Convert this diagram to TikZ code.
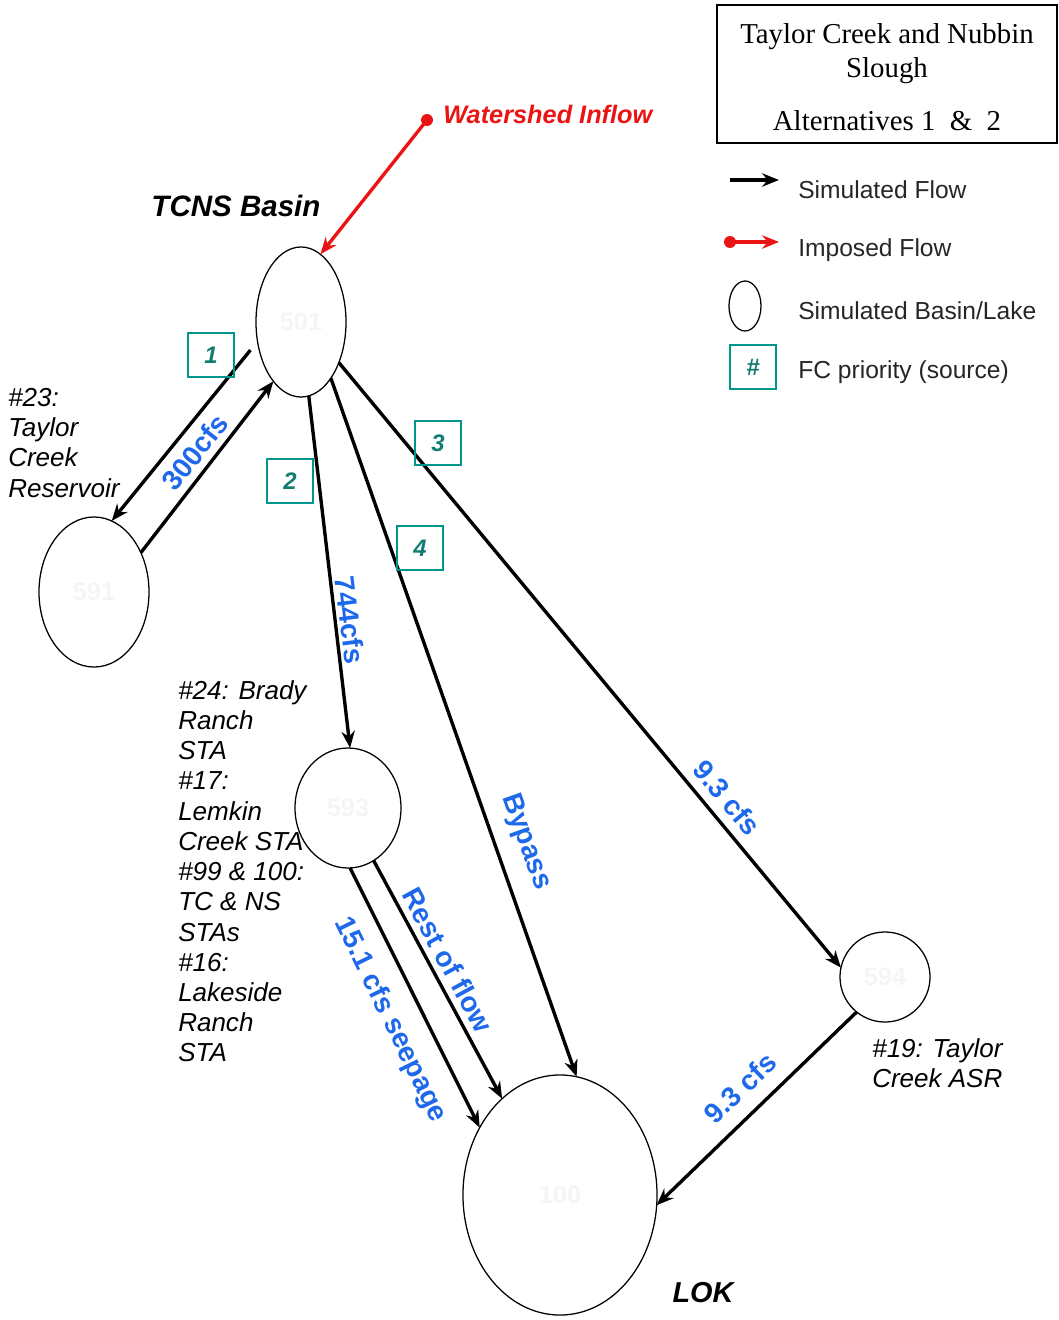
\documentclass[tikz,border=0pt]{standalone}
\usepackage{fontspec}
\setmainfont{Liberation Sans}
\newfontfamily\titlefont{Liberation Serif}
\usetikzlibrary{arrows.meta, shapes.geometric}

\definecolor{flowblue}{RGB}{30,105,235}
\definecolor{fcteal}{RGB}{0,150,140}
\definecolor{fcdigit}{RGB}{20,125,115}
\definecolor{inflowred}{RGB}{235,20,20}

\begin{document}
\begin{tikzpicture}[x=0.025cm, y=-0.025cm,
  basin/.style={ellipse,draw,line width=0.9pt,inner sep=0pt,outer sep=0pt,text=black!4,font=\fontsize{18}{18}\selectfont\bfseries},
  flow/.style={line width=2.4pt,-{Stealth[length=12pt,width=9.5pt]}},
  inflow/.style={flow,draw=inflowred,-{Stealth[length=12pt,width=9.5pt,inflowred]}},
  fcbox/.style={draw=fcteal,line width=0.9pt,minimum width=1.15cm,minimum height=1.1cm,text=fcdigit,font=\fontsize{17}{17}\selectfont\bfseries\itshape},
  flowlabel/.style={text=flowblue,inner sep=0pt,font=\fontsize{20}{20}\selectfont\bfseries},
  sitelabel/.style={align=left,anchor=north west,inner sep=0pt,font=\fontsize{18.5}{21.5}\selectfont\itshape},
  legendtext/.style={anchor=west,inner sep=0pt,text=black!85,font=\fontsize{17.5}{17.5}\selectfont}]
\useasboundingbox (0,0) rectangle (1058,1320);

% basins
\node[basin,minimum width=2.25cm,minimum height=3.75cm] (b501) at (301,322) {501};
\node[basin,minimum width=2.75cm,minimum height=3.75cm] (b591) at (94,592) {591};
\node[basin,minimum width=2.65cm,minimum height=3cm] (b593) at (348,808) {593};
\node[basin,minimum width=2.25cm,minimum height=2.25cm] (b594) at (885,977) {594};
\node[basin,minimum width=4.85cm,minimum height=6cm] (lok) at (560,1195) {100};

% watershed inflow
\node[circle,fill=inflowred,inner sep=0pt,minimum size=8.5pt] (wshed) at (427,120) {};
\draw[inflow] (wshed.center) -- (b501.74);
\node[anchor=west,inner sep=0pt,text=inflowred,font=\fontsize{18}{18}\selectfont\bfseries\itshape] (wshedlbl) at (443,114) {Watershed Inflow};

% flows
\draw[flow,shorten <=8pt] (b501.204) -- (b591.76);
\draw[flow] (b591.40) -- (b501.245);
\draw[flow] (b501.276) -- (b593.88);
\draw[flow] (b501.298) -- (lok.82);
\draw[flow] (b501.313) -- (b594.168);
\draw[flow] (b593.296) -- (lok.121);
\draw[flow] (b593.272) -- (lok.140);
\draw[flow] (b594.231) -- (lok.354);

% flow labels
\node[flowlabel,rotate=52] (q300) at (195,452) {300cfs};
\node[flowlabel,rotate=-83] (q744) at (350,620) {744cfs};
\node[flowlabel,rotate=-70.5] (qbypass) at (526,842) {Bypass};
\node[flowlabel,rotate=-50] (q594in) at (727,798) {9.3 cfs};
\node[flowlabel,rotate=-61.5] (qrest) at (448,960) {Rest of flow};
\node[flowlabel,rotate=-64] (qseep) at (390,1020) {15.1 cfs seepage};
\node[flowlabel,rotate=44] (q594out) at (740,1088) {9.3 cfs};

% FC priorities
\node[fcbox] (fc1) at (211,355) {1};
\node[fcbox] (fc2) at (290,481) {2};
\node[fcbox] (fc3) at (438,443) {3};
\node[fcbox] (fc4) at (420,548) {4};

% site names
\node[inner sep=0pt,font=\fontsize{21}{21}\selectfont\bfseries\itshape] (tcns) at (236,206) {TCNS Basin};
\node[inner sep=0pt,font=\fontsize{20.5}{20.5}\selectfont\bfseries\itshape] (loklbl) at (703,1293) {LOK};
\node[sitelabel] (site591) at (8,388) {\#23:\\Taylor\\Creek\\Reservoir};
\node[sitelabel] (site593) at (178,680) {\#24: Brady\\Ranch\\STA\\\#17:\\Lemkin\\Creek STA\\\#99 \& 100:\\TC \& NS\\STAs\\\#16:\\Lakeside\\Ranch\\STA};
\node[sitelabel] (site594) at (872,1038) {\#19: Taylor\\Creek ASR};

% title
\node[draw,line width=0.8pt,minimum width=8.5cm,minimum height=3.45cm] (titlebox) at (887,74) {};
\node[align=center,inner sep=0pt,font=\titlefont\fontsize{20.5}{24.5}\selectfont] (titletext) at (887,77) {Taylor Creek and Nubbin\\Slough\\[13pt]Alternatives 1 \ \& \ 2};

% legend
\coordinate (simA) at (730,180);
\coordinate (simB) at (779,180);
\draw[flow] (simA) -- (simB);
\node[legendtext] (simtext) at (798,190) {Simulated Flow};
\node[circle,fill=inflowred,inner sep=0pt,minimum size=8.5pt] (impA) at (730,242) {};
\coordinate (impB) at (779,242);
\draw[inflow] (impA.center) -- (impB);
\node[legendtext] (imptext) at (798,250) {Imposed Flow};
\node[basin,minimum width=0.8cm,minimum height=1.25cm] (legbasin) at (745,306) {};
\node[legendtext] (basintext) at (798,311) {Simulated Basin/Lake};
\node[fcbox] (legfc) at (753,367) {\#};
\node[legendtext] (fctext) at (798,372) {FC priority (source)};
\end{tikzpicture}
\end{document}
